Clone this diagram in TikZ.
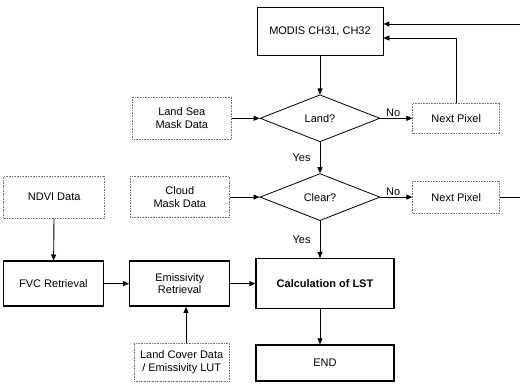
\documentclass[tikz,border=0pt]{standalone}
\usepackage{fontspec}
\setmainfont{Liberation Sans}
\usepackage{tikz}
\usetikzlibrary{shapes.geometric, arrows.meta, positioning, calc}
\newcommand\diagfont{\fontsize{11}{12.5}\selectfont}
\tikzset{
  datain/.style  = {rectangle, draw=black!55, densely dotted, line width=0.6pt,
                    minimum width=99pt, minimum height=42pt, align=center,
                    inner sep=2pt, font=\diagfont},
  srcbox/.style  = {rectangle, draw, line width=0.8pt, minimum width=126pt,
                    minimum height=48pt, align=center, font=\diagfont},
  procbox/.style = {rectangle, draw, line width=1.3pt, minimum width=100pt,
                    minimum height=45pt, align=center, inner sep=2pt,
                    font=\diagfont},
  query/.style   = {diamond, draw, line width=0.8pt, aspect=2.5, inner sep=0pt,
                    minimum width=120pt, minimum height=47pt, font=\diagfont},
  flow/.style    = {-{Triangle[length=6pt,width=5pt]}, line width=0.9pt},
  link/.style    = {line width=0.7pt},
  tag/.style     = {font=\diagfont, inner sep=1pt},
}
\begin{document}
\begin{tikzpicture}[x=1pt, y=-1pt]
  \useasboundingbox (0,0) rectangle (520,387);

  \node[srcbox] (modis) at (320,31) {MODIS CH31, CH32};
  \node[query, below=39pt of modis] (land) {Land?};
  \node[datain, left=28pt of land] (lsmask) {Land Sea\\Mask Data};
  \node[datain, right=32pt of land, minimum width=87pt, minimum height=30pt] (np1) {Next Pixel};

  \node[query, below=31pt of land] (clear) {Clear?};
  \node[datain, left=30pt of clear, minimum height=41pt] (cloud) {Cloud\\Mask Data};
  \node[datain, left=25pt of cloud, minimum width=101pt] (ndvi) {NDVI Data};
  \node[datain, right=32pt of clear, minimum width=87pt, minimum height=32pt] (np2) {Next Pixel};

  \node[procbox, below=37pt of clear, xshift=5pt, minimum width=138pt,
        minimum height=50pt, font=\diagfont\bfseries] (lst) {Calculation of LST};
  \node[procbox, left=25pt of lst] (emis) {Emissivity\\Retrieval};
  \node[procbox, left=25pt of emis] (fvc) {FVC Retrieval};
  \node[datain, below=36pt of emis, minimum width=95pt, minimum height=38pt,
        xshift=2pt] (lcdata) {Land Cover Data\\/ Emissivity LUT};
  \node[procbox, below=35pt of lst, minimum width=138pt, minimum height=36pt] (end) {END};

  \coordinate (rimtop) at (520,24);
  \coordinate (rimlow) at (np2.east -| 520,0);

  \draw[flow] (modis) -- (land);
  \draw[flow] (lsmask) -- (land);
  \draw[flow] (land) -- node[tag, above, pos=0.4] {No} (np1);
  \draw[flow] (land) -- node[tag, left=8pt] {Yes} (clear);
  \draw[flow] (cloud) -- (clear);
  \draw[flow] (clear) -- node[tag, above, pos=0.4] {No} (np2);
  \draw[flow] (clear.south) -- node[tag, left=8pt] {Yes} (clear.south |- lst.north);
  \draw[flow] (ndvi) -- (fvc);
  \draw[flow] (fvc) -- (emis);
  \draw[flow] (emis) -- (lst);
  \draw[flow] (lcdata.north -| 186,0) -- (emis.south -| 186,0);
  \draw[flow] (lst.south -| clear.south) -- (end.north -| clear.south);

  \draw[flow] (np1.north) |- ([yshift=-7pt]modis.east);
  \draw[link] (np2.east) -- (rimlow);
  \draw[flow] (rimtop) -- (rimtop -| modis.east);
\end{tikzpicture}
\end{document}
